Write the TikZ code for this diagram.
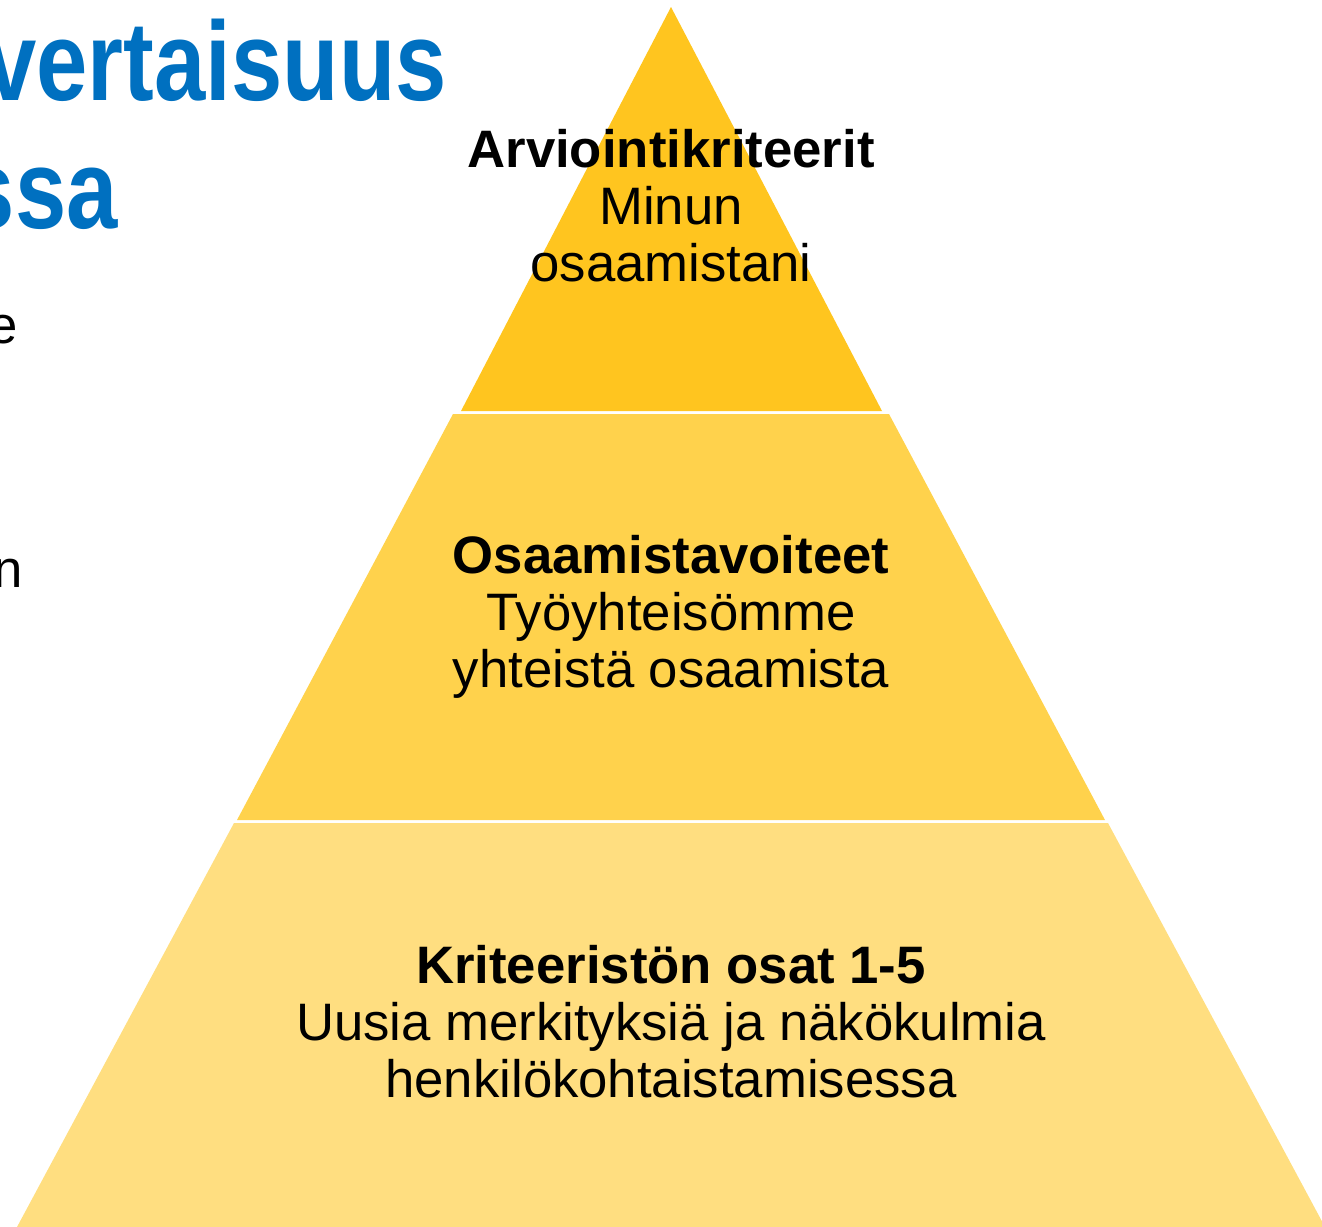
\documentclass[tikz,border=0pt]{standalone}
\usepackage{fontspec}
\setmainfont{Liberation Sans}
\newfontfamily\titlefont[FakeStretch=0.82]{Liberation Sans}
\usetikzlibrary{positioning}

\definecolor{titleblue}{HTML}{0070C0}
\definecolor{tiertop}{HTML}{FFC51F}
\definecolor{tiermid}{HTML}{FFD24C}
\definecolor{tierlow}{HTML}{FFDE80}

\begin{document}
\begin{tikzpicture}[
    x=0.02cm, y=-0.02cm,
    font=\fontsize{30}{32.4}\selectfont,
    tier/.style    ={align=center, inner sep=0pt, text=black},
    heading/.style ={font=\fontsize{64}{70}\selectfont\titlefont\bfseries, text=titleblue, inner sep=0pt, anchor=base east},
    fragment/.style={inner sep=0pt, anchor=base east, text=black},
]

\useasboundingbox (0,0) rectangle (1322,1227);
\clip (0,0) rectangle (1322,1227);

%==================== PYRAMID ====================

\fill[tierlow] (234,823) -- (1108,823) -- (1325,1227) -- (17,1227) -- cycle;
\fill[tiermid] (453,414) -- (889,414) -- (1105,820) -- (237,820) -- cycle;
\fill[tiertop] (671,7) -- (882,411) -- (461,411) -- cycle;

\node[tier] (kriteerit) at (671,205.5) {\textbf{Arviointikriteerit}\\Minun\\osaamistani};
\node[tier] (tavoitteet) at (671,616.5) {\textbf{Osaamistavoiteet}\\Työyhteisömme\\yhteistä osaamista};
\node[tier] (osat) at (671,1022) {\textbf{Kriteeristön osat 1-5}\\Uusia merkityksiä ja näkökulmia\\henkilökohtaistamisessa};

%==================== TITLE (cut at the left edge) ====================

\node[heading] (title1) at (447,100) {vertaisuus};
\node[heading] (title2) at (118,228) {ssa};

\node[fragment] (frag1) at (18,343) {e};
\node[fragment] (frag2) at (23,587) {n};

\end{tikzpicture}
\end{document}
